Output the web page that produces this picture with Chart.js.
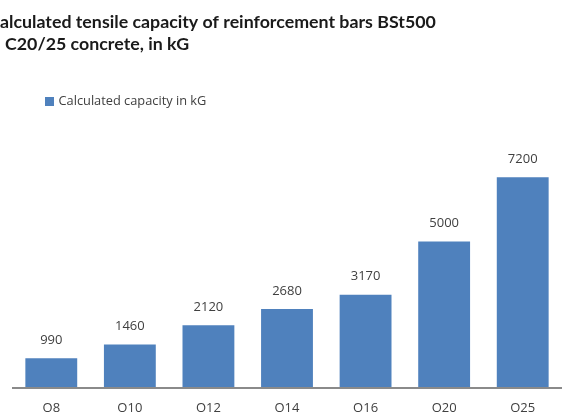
<!DOCTYPE html>
<html>
<head>
<meta charset="utf-8">
<script src="https://cdn.jsdelivr.net/npm/chart.js@4/dist/chart.umd.min.js"></script>
<style>
  html, body { margin: 0; padding: 0; background: #ffffff; }
  #wrap { width: 562px; height: 417px; position: relative; }
</style>
</head>
<body>
<div id="wrap"><canvas id="c" width="562" height="417"></canvas></div>
<script>
const categories = ["O8", "O10", "O12", "O14", "O16", "O20", "O25"];
const capacityValues = [990, 1460, 2120, 2680, 3170, 5000, 7200];
const seriesName = "Calculated capacity in kG";
const titleLines = ["alculated tensile capacity of reinforcement bars BSt500", "C20/25 concrete, in kG"];

const BAR_COLOR = "#4F81BD";
const TEXT_COLOR = "#404040";
const FONT = "'Open Sans', 'DejaVu Sans', sans-serif";

const decorPlugin = {
  id: "decor",
  afterDatasetsDraw(chart) {
    const ctx = chart.ctx;
    const meta = chart.getDatasetMeta(0);
    ctx.save();
    // value labels
    ctx.font = "13px " + FONT;
    ctx.fillStyle = TEXT_COLOR;
    ctx.textAlign = "center";
    ctx.textBaseline = "middle";
    meta.data.forEach((bar, i) => {
      ctx.fillText(String(chart.data.datasets[0].data[i]), bar.x, bar.y - 18);
    });
    // extended axis line
    const yZero = chart.scales.y.getPixelForValue(0);
    ctx.strokeStyle = "#8a8a8a";
    ctx.lineWidth = 2;
    ctx.beginPath();
    ctx.moveTo(chart.chartArea.left, yZero + 1);
    ctx.lineTo(chart.width, yZero + 1);
    ctx.stroke();
    // title
    ctx.textAlign = "left";
    ctx.textBaseline = "alphabetic";
    ctx.fillStyle = "#1a1a1a";
    ctx.font = "bold 17.8px Lato, 'Open Sans', sans-serif";
    ctx.fillText(titleLines[0], 0, 27.5);
    ctx.fillText(titleLines[1], 5, 50);
    // legend
    ctx.fillStyle = BAR_COLOR;
    ctx.fillRect(45, 97, 9, 9);
    ctx.fillStyle = TEXT_COLOR;
    ctx.font = "12.8px " + FONT;
    ctx.textBaseline = "middle";
    ctx.fillText(chart.data.datasets[0].label, 58.5, 101.5);
    ctx.restore();
  }
};

new Chart(document.getElementById("c"), {
  type: "bar",
  data: {
    labels: categories,
    datasets: [{
      label: seriesName,
      data: capacityValues,
      backgroundColor: BAR_COLOR,
      borderWidth: 0,
      barPercentage: 0.66,
      categoryPercentage: 1.0
    }]
  },
  options: {
    responsive: false,
    animation: false,
    devicePixelRatio: 1,
    layout: { padding: { left: 12, right: 0, top: 154, bottom: 0 } },
    plugins: {
      legend: { display: false },
      title: { display: false },
      tooltip: { enabled: false }
    },
    scales: {
      x: {
        grid: { display: false, drawTicks: false },
        border: { display: false },
        ticks: { color: TEXT_COLOR, font: { family: FONT, size: 13 }, padding: 13, maxRotation: 0, autoSkip: false },
        afterFit(scale) { scale.height = 30; }
      },
      y: {
        display: false,
        min: 0,
        max: 8000
      }
    }
  },
  plugins: [decorPlugin]
});
</script>
</body>
</html>
